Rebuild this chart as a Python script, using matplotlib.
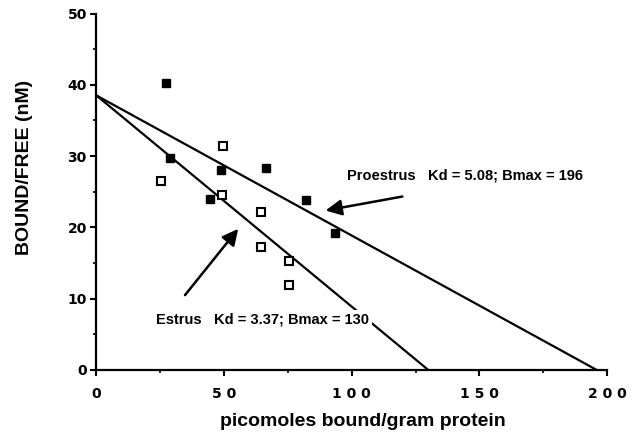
import numpy as np
import matplotlib.pyplot as plt

plt.rcParams['font.family'] = ['Liberation Sans', 'DejaVu Sans']
plt.rcParams['font.weight'] = 'bold'

# proestrus (filled squares)
pro_x = [27.2, 28.8, 48.7, 66.3, 44.5, 82.2, 93.4]
pro_y = [40.2, 29.8, 28.1, 28.4, 24.0, 23.9, 19.2]
# estrus (open squares)
est_x = [49.7, 25.3, 49.0, 64.4, 64.4, 75.4, 75.4]
est_y = [31.4, 26.5, 24.6, 22.2, 17.3, 15.3, 11.9]

# fitted lines: y intercept and Bmax (x intercept)
intercept = 38.5
pro_bmax = 196
est_bmax = 130

xticks = [0, 50, 100, 150, 200]
xticklabels = ['0', '5 0', '1 0 0', '1 5 0', '2 0 0']
yticks = [0, 10, 20, 30, 40, 50]

fig = plt.figure(figsize=(6.36, 4.4), dpi=100)
ax = fig.add_axes([0.1517, 0.1591, 0.8027, 0.8102])

ax.plot([0, pro_bmax], [intercept, 0], color='black', lw=1.6)
ax.plot([0, est_bmax], [intercept, 0], color='black', lw=1.6)

ax.plot(pro_x, pro_y, 's', color='black', ms=5.8, ls='none')
ax.plot(est_x, est_y, 's', mfc='white', mec='black', mew=1.5, ms=5.5, ls='none')

ax.annotate('', xy=(88.7, 22.3), xytext=(120.9, 24.4),
            arrowprops=dict(arrowstyle='-|>', color='black', lw=1.8, mutation_scale=24))
ax.annotate('', xy=(56.2, 20.1), xytext=(34.0, 10.2),
            arrowprops=dict(arrowstyle='-|>', color='black', lw=1.8, mutation_scale=24))
# labels sit on a white patch, the estrus line is broken behind its text
box = dict(facecolor='white', edgecolor='none', pad=2)
ax.text(98.1, 27.3, 'Proestrus   Kd = 5.08; Bmax = 196', fontsize=10.5, fontweight='bold',
        va='center', ha='left', bbox=box, zorder=3)
ax.text(23.3, 7.1, 'Estrus   Kd = 3.37; Bmax = 130', fontsize=10.5, fontweight='bold',
        va='center', ha='left', bbox=box, zorder=3)

ax.set_xlim(0, 200)
ax.set_ylim(0, 50)
ax.set_xticks(xticks)
ax.set_xticklabels(xticklabels)
ax.set_yticks(yticks)
ax.set_xticks([25, 75, 125, 175], minor=True)
ax.set_yticks([5, 15, 25, 35, 45], minor=True)
ax.tick_params(width=1.5, length=4)
ax.tick_params(axis='x', pad=8.5)
ax.tick_params(axis='y', pad=3)
ax.tick_params(which='minor', width=1.2, length=2.5)
for lab in ax.get_xticklabels() + ax.get_yticklabels():
    lab.set_fontfamily('DejaVu Sans')
    lab.set_fontweight('bold')
    lab.set_fontsize(10)

for s in ['top', 'right']:
    ax.spines[s].set_visible(False)
for s in ['left', 'bottom']:
    ax.spines[s].set_linewidth(1.6)

ax.set_xlabel('picomoles bound/gram protein', fontsize=14, fontweight='bold')
ax.set_ylabel('BOUND/FREE (nM)', fontsize=14, fontweight='bold')
ax.xaxis.set_label_coords(0.5225, -0.121)
ax.yaxis.set_label_coords(-0.1245, 0.568)

fig.savefig('out.png', dpi=100)
